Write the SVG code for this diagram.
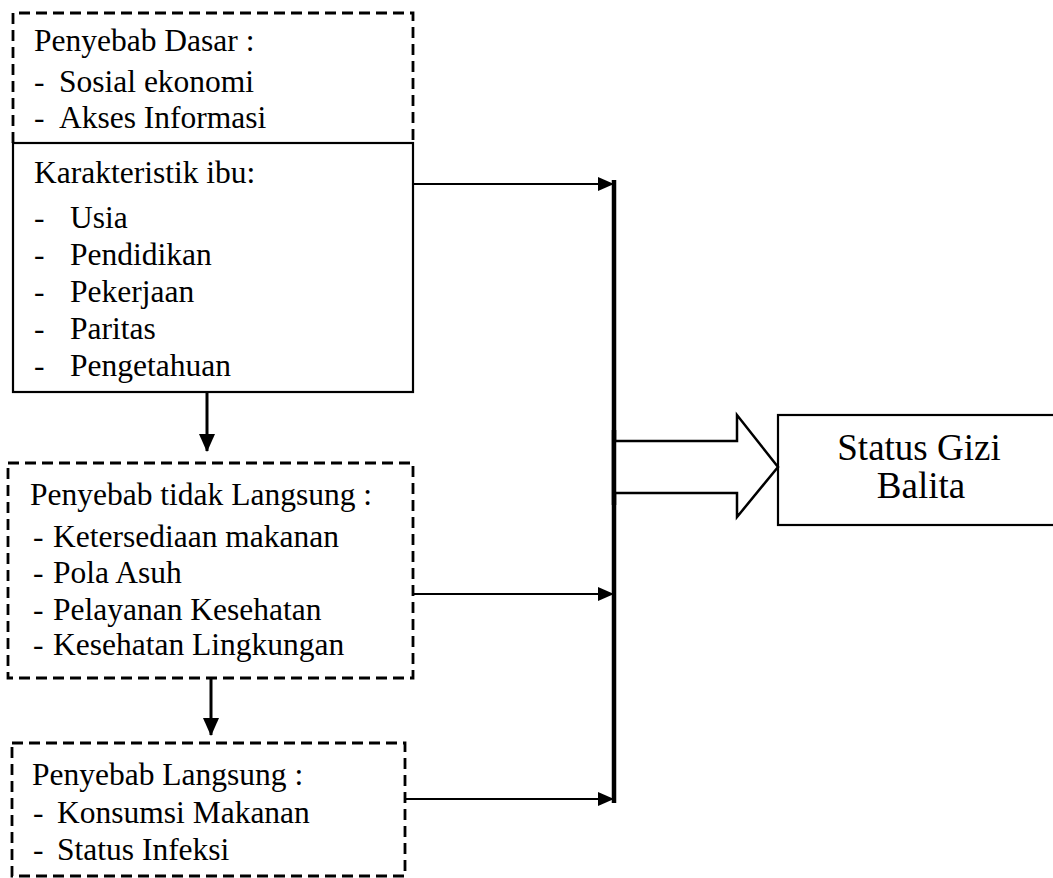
<svg xmlns="http://www.w3.org/2000/svg" width="1053" height="878" viewBox="0 0 1053 878">
<style>
text{font-family:"Liberation Serif","Times New Roman",serif;fill:#000}
.t{font-size:31.5px}
.big{font-size:37px}
.dash{fill:none;stroke:#000;stroke-width:2.8;stroke-dasharray:11 6}
.solid{fill:none;stroke:#000;stroke-width:2.2}
.ln{fill:none;stroke:#000;stroke-width:2.2}
.thick{fill:none;stroke:#000;stroke-width:3}
</style>
<defs>
<marker id="ah" markerWidth="16" markerHeight="14" refX="15" refY="7" orient="auto" markerUnits="userSpaceOnUse">
<path d="M0,0 L16,7 L0,14 Z" fill="#000"/>
</marker>
<marker id="ahd" markerWidth="18" markerHeight="16" refX="17" refY="8" orient="auto" markerUnits="userSpaceOnUse">
<path d="M0,0 L18,8 L0,16 Z" fill="#000"/>
</marker>
</defs>
<g id="penyebab-dasar">
<path class="dash" d="M13,143 L13,13 L413,13 L413,143"/>
<text class="t" x="34" y="51">Penyebab Dasar :</text>
<text class="t" y="92"><tspan x="34">-</tspan><tspan x="59">Sosial ekonomi</tspan></text>
<text class="t" y="128"><tspan x="34">-</tspan><tspan x="59">Akses Informasi</tspan></text>
</g>
<g id="karakteristik-ibu">
<rect class="solid" x="13" y="143" width="400" height="249"/>
<text class="t" x="34" y="183">Karakteristik ibu:</text>
<text class="t" y="228"><tspan x="34">-</tspan><tspan x="70">Usia</tspan></text>
<text class="t" y="265"><tspan x="34">-</tspan><tspan x="70">Pendidikan</tspan></text>
<text class="t" y="302"><tspan x="34">-</tspan><tspan x="70">Pekerjaan</tspan></text>
<text class="t" y="339"><tspan x="34">-</tspan><tspan x="70">Paritas</tspan></text>
<text class="t" y="376"><tspan x="34">-</tspan><tspan x="70">Pengetahuan</tspan></text>
</g>
<g id="penyebab-tidak-langsung">
<rect class="dash" x="8" y="463" width="405" height="215"/>
<text class="t" x="30" y="505">Penyebab tidak Langsung :</text>
<text class="t" y="547"><tspan x="33">-</tspan><tspan x="53">Ketersediaan makanan</tspan></text>
<text class="t" y="583"><tspan x="33">-</tspan><tspan x="53">Pola Asuh</tspan></text>
<text class="t" y="620"><tspan x="33">-</tspan><tspan x="53">Pelayanan Kesehatan</tspan></text>
<text class="t" y="655"><tspan x="33">-</tspan><tspan x="53">Kesehatan Lingkungan</tspan></text>
</g>
<g id="penyebab-langsung">
<rect class="dash" x="12" y="743" width="393" height="133"/>
<text class="t" x="32" y="785">Penyebab Langsung :</text>
<text class="t" y="823"><tspan x="33">-</tspan><tspan x="57">Konsumsi Makanan</tspan></text>
<text class="t" y="860"><tspan x="33">-</tspan><tspan x="57">Status Infeksi</tspan></text>
</g>
<g id="status-gizi">
<rect class="solid" x="778" y="415" width="285" height="110"/>
<text class="big" x="919" y="460" text-anchor="middle">Status Gizi</text>
<text class="big" x="921" y="498" text-anchor="middle">Balita</text>
</g>
<g id="connectors">
<line x1="614" y1="180" x2="614" y2="803" stroke="#000" stroke-width="4.5"/>
<line class="ln" x1="413" y1="184" x2="613" y2="184" marker-end="url(#ah)"/>
<line class="ln" x1="413" y1="594" x2="613" y2="594" marker-end="url(#ah)"/>
<line class="ln" x1="405" y1="799" x2="613" y2="799" marker-end="url(#ah)"/>
<line class="thick" x1="207" y1="392" x2="207" y2="451" marker-end="url(#ahd)"/>
<line class="thick" x1="211" y1="678" x2="211" y2="735" marker-end="url(#ahd)"/>
<polygon points="614,441 737,441 737,415 778,467 737,517 737,493 614,493" fill="#fff" stroke="#000" stroke-width="2.5" stroke-linejoin="miter"/>
<line x1="614" y1="430" x2="614" y2="505" stroke="#000" stroke-width="4.5"/>
</g>
</svg>
